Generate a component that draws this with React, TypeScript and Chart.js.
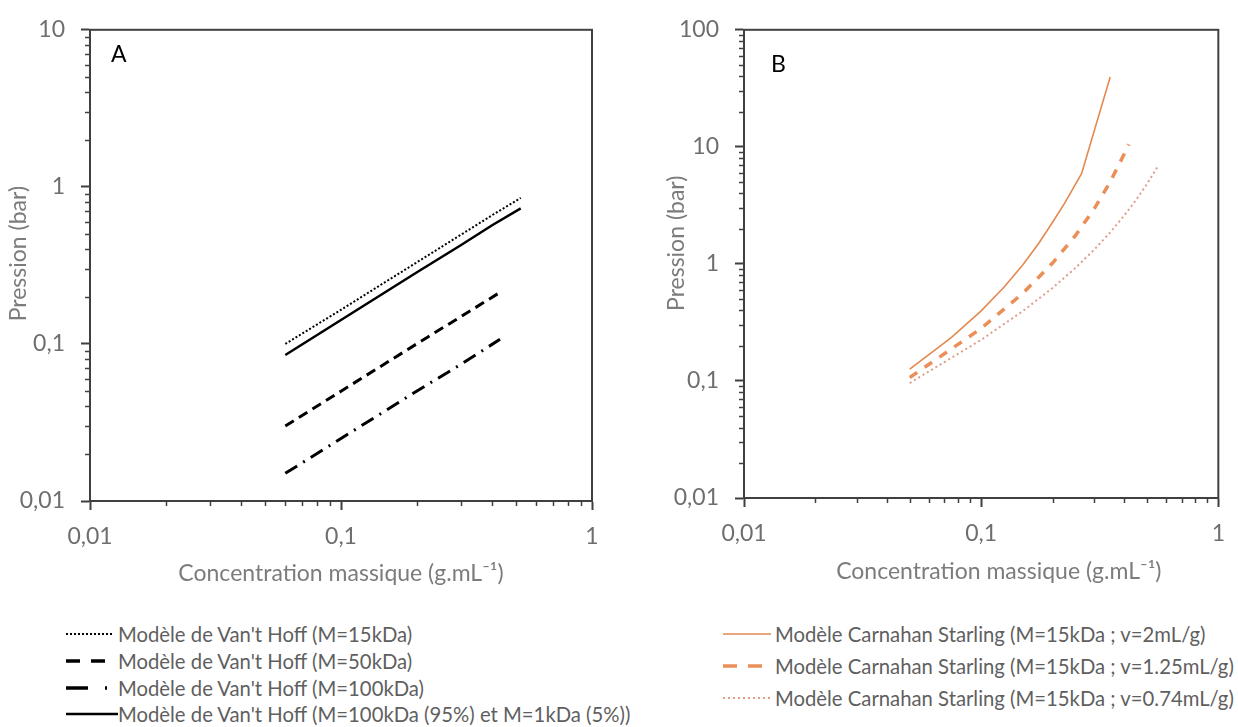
import React, { useEffect, useRef } from "react";
import { Chart, registerables } from "chart.js";

Chart.register(...registerables);

// ---------- Data ----------
// Chart A : Van't Hoff models
const vhX15 = [0.06, 0.1, 0.2, 0.3, 0.4, 0.52];
const vhY15 = [0.1, 0.165, 0.33, 0.495, 0.66, 0.85];
const vhX50 = [0.06, 0.1, 0.2, 0.3, 0.43];
const vhY50 = [0.03, 0.05, 0.1, 0.149, 0.213];
const vhX100 = [0.06, 0.1, 0.2, 0.3, 0.43];
const vhY100 = [0.015, 0.025, 0.05, 0.074, 0.107];
const vhXmix = [0.06, 0.1, 0.2, 0.3, 0.4, 0.52];
const vhYmix = [0.085, 0.142, 0.285, 0.425, 0.57, 0.73];

// Chart B : Carnahan Starling models
const csX2 = [0.05, 0.075, 0.1, 0.125, 0.15, 0.175, 0.2, 0.225, 0.25, 0.265, 0.35];
const csY2 = [0.126, 0.236, 0.397, 0.635, 0.985, 1.5, 2.27, 3.3, 4.8, 5.9, 39.5];
const csX125 = [0.05, 0.1, 0.15, 0.2, 0.25, 0.3, 0.35, 0.4, 0.42];
const csY125 = [0.107, 0.281, 0.562, 1.016, 1.753, 2.97, 5.02, 8.59, 10.5];
const csX074 = [0.05, 0.1, 0.15, 0.2, 0.25, 0.3, 0.35, 0.4, 0.45, 0.5, 0.56];
const csY074 = [0.096, 0.2245, 0.396, 0.623, 0.925, 1.327, 1.86, 2.571, 3.525, 4.81, 6.98];

// Axis ticks
const xTickValues = [
  0.01, 0.02, 0.03, 0.04, 0.05, 0.06, 0.07, 0.08, 0.09,
  0.1, 0.2, 0.3, 0.4, 0.5, 0.6, 0.7, 0.8, 0.9, 1,
];
const xMajorValues = [0.01, 0.1, 1];
const xMajorLabels = ["0,01", "0,1", "1"];

const yTickValuesA = [
  0.01, 0.02, 0.03, 0.04, 0.05, 0.06, 0.07, 0.08, 0.09,
  0.1, 0.2, 0.3, 0.4, 0.5, 0.6, 0.7, 0.8, 0.9,
  1, 2, 3, 4, 5, 6, 7, 8, 9, 10,
];
const yMajorValuesA = [0.01, 0.1, 1, 10];
const yMajorLabelsA = ["0,01", "0,1", "1", "10"];

const yTickValuesB = [
  0.01, 0.02, 0.03, 0.04, 0.05, 0.06, 0.07, 0.08, 0.09,
  0.1, 0.2, 0.3, 0.4, 0.5, 0.6, 0.7, 0.8, 0.9,
  1, 2, 3, 4, 5, 6, 7, 8, 9,
  10, 20, 30, 40, 50, 60, 70, 80, 90, 100,
];
const yMajorValuesB = [0.01, 0.1, 1, 10, 100];
const yMajorLabelsB = ["0,01", "0,1", "1", "10", "100"];

const legendA = [
  "Modèle de Van't Hoff (M=15kDa)",
  "Modèle de Van't Hoff (M=50kDa)",
  "Modèle de Van't Hoff (M=100kDa)",
  "Modèle de Van't Hoff (M=100kDa (95%) et M=1kDa (5%))",
];
const legendB = [
  "Modèle Carnahan Starling (M=15kDa ; v=2mL/g)",
  "Modèle Carnahan Starling (M=15kDa ; v=1.25mL/g)",
  "Modèle Carnahan Starling (M=15kDa ; v=0.74mL/g)",
];

const xTitle = "Concentration massique (g.mL\u207B\u00B9)";
const yTitle = "Pression (bar)";

// ---------- Styling ----------
const FONT = "Lato, 'Open Sans', sans-serif";
const AXIS = "#404040";
const TICK_TXT = "#6e6e6e";
const TITLE_TXT = "#7c7c7c";
const ORANGE_SOLID = "#E3894F";
const ORANGE_DASH = "#EB8E58";
const ORANGE_DOT = "#DE9E8A";
const NB = "\u00A0";

const pts = (xs: number[], ys: number[]) => xs.map((x, i) => ({ x, y: ys[i] }));
const findIdx = (v: number, arr: number[]) =>
  arr.findIndex((m) => Math.abs(m - v) / m < 1e-6);

type ChartSpec = {
  datasets: any[];
  yTicks: number[];
  yMajors: number[];
  yLabels: string[];
  yMax: number;
  width: number;
  height: number;
  padTop: number;
  padRight: number;
  yWidth: number;
  xHeight: number;
  yTitlePad: number;
  xTitlePad: number;
  yTitleText: string;
  xTitleText: string;
};

function LogChart(spec: ChartSpec) {
  const ref = useRef<HTMLCanvasElement>(null);
  useEffect(() => {
    const framePlugin = {
      id: "frameMinor",
      afterDraw(chart: any) {
        const ctx = chart.ctx;
        const xs = chart.scales.x;
        const ys = chart.scales.y;
        const a = chart.chartArea;
        ctx.save();
        ctx.strokeStyle = AXIS;
        ctx.lineWidth = 1.5;
        xs.ticks.forEach((t: any) => {
          if (findIdx(t.value, xMajorValues) < 0) {
            const px = Math.round(xs.getPixelForValue(t.value)) + 0.5;
            ctx.beginPath();
            ctx.moveTo(px, a.bottom);
            ctx.lineTo(px, a.bottom + 5);
            ctx.stroke();
          }
        });
        ys.ticks.forEach((t: any) => {
          if (findIdx(t.value, spec.yMajors) < 0) {
            const py = Math.round(ys.getPixelForValue(t.value)) + 0.5;
            ctx.beginPath();
            ctx.moveTo(a.left, py);
            ctx.lineTo(a.left - 5, py);
            ctx.stroke();
          }
        });
        ctx.lineWidth = 2;
        ctx.strokeRect(a.left, a.top, a.right - a.left, a.bottom - a.top);
        ctx.restore();
      },
    };

    const chart = new Chart(ref.current as HTMLCanvasElement, {
      type: "scatter",
      data: { datasets: spec.datasets },
      options: {
        animation: false,
        responsive: false,
        devicePixelRatio: 1,
        layout: {
          padding: { left: 0, top: spec.padTop, right: spec.padRight, bottom: 0 },
        },
        plugins: {
          legend: { display: false },
          tooltip: { enabled: false },
        },
        elements: { point: { radius: 0 }, line: { tension: 0 } },
        scales: {
          x: {
            type: "logarithmic",
            min: 0.01,
            max: 1,
            afterBuildTicks: (s: any) => {
              s.ticks = xTickValues.map((v) => ({ value: v }));
            },
            afterFit: (s: any) => {
              s.height = spec.xHeight;
            },
            ticks: {
              autoSkip: false,
              maxRotation: 0,
              padding: 13,
              color: TICK_TXT,
              font: { family: FONT, size: 23 },
              callback: (v: any) => {
                const i = findIdx(Number(v), xMajorValues);
                return i >= 0 ? xMajorLabels[i] : "";
              },
            },
            grid: {
              display: true,
              drawOnChartArea: false,
              tickLength: 9,
              tickWidth: 2,
              tickColor: (c: any) =>
                c.tick && findIdx(c.tick.value, xMajorValues) >= 0 ? AXIS : "rgba(0,0,0,0)",
            },
            border: { display: true, color: AXIS, width: 2 },
            title: {
              display: true,
              text: spec.xTitleText,
              color: TITLE_TXT,
              font: { family: FONT, size: 23 },
              padding: { top: 0, bottom: spec.xTitlePad },
            },
          },
          y: {
            type: "logarithmic",
            min: 0.01,
            max: spec.yMax,
            afterBuildTicks: (s: any) => {
              s.ticks = spec.yTicks.map((v) => ({ value: v }));
            },
            afterFit: (s: any) => {
              s.width = spec.yWidth;
            },
            ticks: {
              autoSkip: false,
              padding: 16,
              color: TICK_TXT,
              font: { family: FONT, size: 23 },
              callback: (v: any) => {
                const i = findIdx(Number(v), spec.yMajors);
                return i >= 0 ? spec.yLabels[i] : "";
              },
            },
            grid: {
              display: true,
              drawOnChartArea: false,
              tickLength: 9,
              tickWidth: 2,
              tickColor: (c: any) =>
                c.tick && findIdx(c.tick.value, spec.yMajors) >= 0 ? AXIS : "rgba(0,0,0,0)",
            },
            border: { display: true, color: AXIS, width: 2 },
            title: {
              display: true,
              text: spec.yTitleText,
              color: TITLE_TXT,
              font: { family: FONT, size: 23 },
              padding: { top: spec.yTitlePad, bottom: 0 },
            },
          },
        },
      },
      plugins: [framePlugin],
    } as any);
    return () => chart.destroy();
  }, []);
  return (
    <canvas
      ref={ref}
      width={spec.width}
      height={spec.height}
      style={{ width: spec.width, height: spec.height, display: "block" }}
    />
  );
}

const datasetsA = [
  { data: pts(vhX15, vhY15), showLine: true, borderColor: "#000", borderWidth: 2, borderDash: [2, 2] },
  { data: pts(vhX50, vhY50), showLine: true, borderColor: "#000", borderWidth: 3, borderDash: [10, 6] },
  { data: pts(vhX100, vhY100), showLine: true, borderColor: "#000", borderWidth: 3, borderDash: [14, 7, 2, 7] },
  { data: pts(vhXmix, vhYmix), showLine: true, borderColor: "#000", borderWidth: 2.5 },
];

const datasetsB = [
  { data: pts(csX2, csY2), showLine: true, borderColor: ORANGE_SOLID, borderWidth: 1.6 },
  { data: pts(csX125, csY125), showLine: true, borderColor: ORANGE_DASH, borderWidth: 3.5, borderDash: [9, 9] },
  { data: pts(csX074, csY074), showLine: true, borderColor: ORANGE_DOT, borderWidth: 2, borderDash: [2, 3] },
];

function LegendRow(props: { top: number; left: number; text: string; sample: React.ReactNode }) {
  return (
    <div style={{ position: "absolute", left: props.left, top: props.top - 13, height: 26, display: "flex", alignItems: "center" }}>
      <svg width={52} height={26} style={{ display: "block" }}>{props.sample}</svg>
      <span style={{ fontFamily: FONT, fontSize: 20.3, color: "#5f5f5f", whiteSpace: "nowrap", lineHeight: "26px" }}>
        {props.text}
      </span>
    </div>
  );
}

export default function App() {
  const samplesA = [
    <line x1={0} y1={13} x2={48} y2={13} stroke="#000" strokeWidth={2} strokeDasharray="2 2" />,
    <line x1={0} y1={13} x2={42} y2={13} stroke="#000" strokeWidth={3.5} strokeDasharray="14 11" />,
    <line x1={0} y1={13} x2={44} y2={13} stroke="#000" strokeWidth={3.5} strokeDasharray="22 17 2 20" />,
    <line x1={0} y1={13} x2={52} y2={13} stroke="#000" strokeWidth={2.5} />,
  ];
  const samplesB = [
    <line x1={0} y1={13} x2={48} y2={13} stroke={ORANGE_SOLID} strokeWidth={1.6} />,
    <line x1={0} y1={13} x2={40} y2={13} stroke={ORANGE_DASH} strokeWidth={3.5} strokeDasharray="14 11" />,
    <line x1={0} y1={13} x2={48} y2={13} stroke={ORANGE_DOT} strokeWidth={2} strokeDasharray="2 3" />,
  ];
  const rowsA = [634, 661, 688, 714];
  const rowsB = [634, 666, 698];

  return (
    <div style={{ position: "absolute", left: 0, top: 0, width: 1238, height: 727, background: "#fff", overflow: "hidden" }}>
      <div style={{ position: "absolute", left: 0, top: 0 }}>
        <LogChart
          datasets={datasetsA}
          yTicks={yTickValuesA}
          yMajors={yMajorValuesA}
          yLabels={yMajorLabelsA}
          yMax={10}
          width={620}
          height={600}
          padTop={22}
          padRight={28}
          yWidth={90}
          xHeight={99}
          yTitlePad={5}
          xTitlePad={13}
          yTitleText={NB.repeat(4) + yTitle}
          xTitleText={xTitle}
        />
      </div>
      <div style={{ position: "absolute", left: 620, top: 0 }}>
        <LogChart
          datasets={datasetsB}
          yTicks={yTickValuesB}
          yMajors={yMajorValuesB}
          yLabels={yMajorLabelsB}
          yMax={100}
          width={618}
          height={600}
          padTop={21}
          padRight={7}
          yWidth={124}
          xHeight={102}
          yTitlePad={43}
          xTitlePad={15}
          yTitleText={NB.repeat(7) + yTitle}
          xTitleText={NB.repeat(6) + xTitle}
        />
      </div>
      <div style={{ position: "absolute", left: 111, top: 38, fontFamily: FONT, fontSize: 23, color: "#000", lineHeight: "30px" }}>A</div>
      <div style={{ position: "absolute", left: 771, top: 48, fontFamily: FONT, fontSize: 23, color: "#000", lineHeight: "30px" }}>B</div>
      {legendA.map((t, i) => (
        <LegendRow key={"a" + i} top={rowsA[i]} left={66} text={t} sample={samplesA[i]} />
      ))}
      {legendB.map((t, i) => (
        <LegendRow key={"b" + i} top={rowsB[i]} left={723} text={t} sample={samplesB[i]} />
      ))}
    </div>
  );
}
